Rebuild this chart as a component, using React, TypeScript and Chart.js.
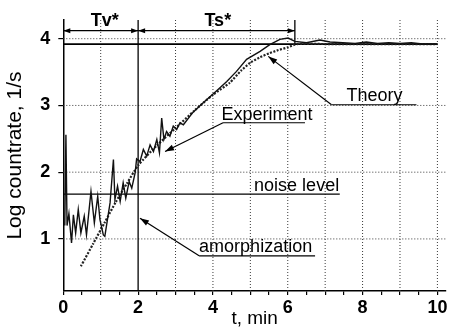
import React, { useEffect, useRef } from 'react';
import { Chart, registerables } from 'chart.js';

Chart.register(...registerables);

const FONT = '"Liberation Sans", Arial, Helvetica, sans-serif';

// Measured count rate (log10, 1/s) versus time, min
const experimentT = [
  0.04, 0.07, 0.1, 0.15, 0.22, 0.27, 0.33, 0.4, 0.47, 0.56, 0.62, 0.74, 0.83, 0.92, 0.98,
  1.07, 1.11, 1.25, 1.34, 1.38, 1.45, 1.52, 1.6, 1.67, 1.76, 1.83, 1.92, 1.96, 2.05, 2.14,
  2.23, 2.32, 2.41, 2.5, 2.57, 2.63, 2.69, 2.76, 2.85, 2.94, 3.03, 3.12, 3.21, 3.47, 3.74,
  3.92, 4.1, 4.37, 4.63, 4.9, 5.26, 5.52, 5.79, 6.01, 6.19, 6.5, 6.86, 7.13, 7.47, 7.8,
  8.1, 8.4, 8.7, 9.0, 9.3, 9.6, 10.0,
];
const experimentLog = [
  1.2, 2.56, 1.2, 1.38, 0.94, 1.36, 1.09, 1.44, 1.09, 1.34, 1.06, 1.71, 1.24, 1.64, 1.29,
  1.06, 1.04, 1.54, 2.19, 1.59, 1.79, 1.56, 1.84, 1.61, 1.86, 1.76, 1.99, 2.2, 2.16, 2.34,
  2.24, 2.41, 2.31, 2.49, 2.29, 2.81, 2.49, 2.61, 2.54, 2.69, 2.64, 2.74, 2.71, 2.9, 3.04,
  3.13, 3.22, 3.36, 3.51, 3.69, 3.81, 3.91, 3.99, 4.01, 3.96, 3.94, 3.98, 3.95, 3.94, 3.93,
  3.95, 3.93, 3.94, 3.93, 3.94, 3.92, 3.92,
];

// Calculated curve
const theoryT = [
  0.47, 0.8, 1.1, 1.4, 1.7, 2.0, 2.5, 3.0, 3.5, 4.0, 4.45, 4.75, 5.0, 5.25, 5.5, 5.75, 6.0,
  6.25, 7.0, 8.0, 9.0, 10.0,
];
const theoryLog = [
  0.59, 0.93, 1.24, 1.55, 1.83, 2.1, 2.4, 2.66, 2.92, 3.16, 3.34, 3.52, 3.64, 3.72, 3.78,
  3.83, 3.87, 3.92, 3.92, 3.92, 3.92, 3.92,
];

// Axes
const X_MIN = 0;
const X_MAX = 10.23;
const Y_MIN = 0.22;
const Y_MAX = 4.28;
const xTickValues = [0, 0.5, 1, 1.5, 2, 2.5, 3, 3.5, 4, 4.5, 5, 5.5, 6, 6.5, 7, 7.5, 8, 8.5, 9, 9.5, 10];
const xTickLabels = [0, 2, 4, 6, 8, 10];
const yTickValues = [1, 2, 3, 4];
const gridT = [1, 3, 4, 5, 6, 7, 8, 9, 10];
const gridLog = [1, 2, 3, 4];

// Reference levels and intervals
const tvStart = 0;
const tvEnd = 2;
const tsEnd = 6.19;
const plateauLog = 3.92;
const plateauEnd = 10;
const noiseLog = 1.67;
const noiseEnd = 7.39;
const spanLog = 4.12;

// Callout placement (axis units): text anchor, underline, arrow tip
const callouts = [
  { text: 'Experiment', tx: 4.23, ty: 2.786, ux1: 4.27, ux2: 6.46, uy: 2.741, tipX: 2.72, tipY: 2.31 },
  { text: 'Theory', tx: 7.57, ty: 3.063, ux1: 7.17, ux2: 9.44, uy: 3.01, tipX: 5.48, tipY: 3.735 },
  { text: 'amorphization', tx: 3.63, ty: 0.807, ux1: 3.63, ux2: 6.73, uy: 0.747, tipX: 2.05, tipY: 1.31 },
];
const noiseText = { text: 'noise level', tx: 5.1, ty: 1.721 };
const spanTexts = [
  { text: 'Tv*', tx: 1.11, ty: 4.195 },
  { text: 'Ts*', tx: 4.13, ty: 4.195 },
];

function arrowHead(ctx: CanvasRenderingContext2D, fx: number, fy: number, tx: number, ty: number, len: number, half: number) {
  const ang = Math.atan2(ty - fy, tx - fx);
  ctx.beginPath();
  ctx.moveTo(tx, ty);
  ctx.lineTo(tx - len * Math.cos(ang) + half * Math.sin(ang), ty - len * Math.sin(ang) - half * Math.cos(ang));
  ctx.lineTo(tx - len * Math.cos(ang) - half * Math.sin(ang), ty - len * Math.sin(ang) + half * Math.cos(ang));
  ctx.closePath();
  ctx.fill();
}

function seg(ctx: CanvasRenderingContext2D, x1: number, y1: number, x2: number, y2: number) {
  ctx.beginPath();
  ctx.moveTo(x1, y1);
  ctx.lineTo(x2, y2);
  ctx.stroke();
}

const overlay = {
  id: 'overlay',
  beforeDatasetsDraw(chart: any) {
    const { ctx, chartArea: a, scales } = chart;
    const X = (v: number) => scales.x.getPixelForValue(v);
    const Y = (v: number) => scales.y.getPixelForValue(v);
    ctx.save();
    // dotted grid
    ctx.strokeStyle = '#3a3a3a';
    ctx.lineWidth = 1;
    ctx.setLineDash([1, 2]);
    for (const v of gridT) seg(ctx, X(v), a.top, X(v), a.bottom);
    for (const v of gridLog) seg(ctx, a.left, Y(v), a.right, Y(v));
    ctx.setLineDash([]);
    // solid reference lines
    ctx.strokeStyle = '#000';
    ctx.lineWidth = 1.3;
    seg(ctx, X(tvEnd), a.top, X(tvEnd), a.bottom);
    seg(ctx, X(tsEnd), a.top, X(tsEnd), Y(plateauLog));
    seg(ctx, X(tvStart), Y(noiseLog), X(noiseEnd), Y(noiseLog));
    ctx.lineWidth = 1.8;
    seg(ctx, X(tvStart), Y(plateauLog), X(plateauEnd), Y(plateauLog));
    ctx.restore();
  },
  afterDraw(chart: any) {
    const { ctx, scales } = chart;
    const X = (v: number) => scales.x.getPixelForValue(v);
    const Y = (v: number) => scales.y.getPixelForValue(v);
    ctx.save();
    ctx.strokeStyle = '#000';
    ctx.fillStyle = '#000';
    ctx.lineWidth = 1.3;
    // interval arrows
    const ys = Y(spanLog);
    seg(ctx, X(tvStart), ys, X(tvEnd), ys);
    seg(ctx, X(tvEnd), ys, X(tsEnd), ys);
    arrowHead(ctx, X(tvEnd), ys, X(tvStart), ys, 7, 2.5);
    arrowHead(ctx, X(tvStart), ys, X(tvEnd), ys, 7, 2.5);
    arrowHead(ctx, X(tsEnd), ys, X(tvEnd), ys, 7, 2.5);
    arrowHead(ctx, X(tvEnd), ys, X(tsEnd), ys, 7, 2.5);
    // callouts
    ctx.font = `18px ${FONT}`;
    ctx.textBaseline = 'alphabetic';
    ctx.textAlign = 'left';
    ctx.lineWidth = 1.2;
    for (const c of callouts) {
      seg(ctx, X(c.ux1), Y(c.uy), X(c.ux2), Y(c.uy));
      seg(ctx, X(c.ux1), Y(c.uy), X(c.tipX), Y(c.tipY));
      arrowHead(ctx, X(c.ux1), Y(c.uy), X(c.tipX), Y(c.tipY), 9, 3);
      ctx.fillText(c.text, X(c.tx), Y(c.ty));
    }
    ctx.fillText(noiseText.text, X(noiseText.tx), Y(noiseText.ty));
    ctx.font = `bold 18px ${FONT}`;
    ctx.textAlign = 'center';
    for (const s of spanTexts) ctx.fillText(s.text, X(s.tx), Y(s.ty));
    ctx.restore();
  },
};

export default function App() {
  const ref = useRef<HTMLCanvasElement>(null);

  useEffect(() => {
    const canvas = ref.current;
    if (!canvas) return;
    const chart = new Chart(canvas, {
      type: 'line',
      data: {
        datasets: [
          {
            label: 'Experiment',
            data: experimentT.map((t, i) => ({ x: t, y: experimentLog[i] })),
            borderColor: '#111',
            borderWidth: 1.4,
            pointRadius: 0,
            tension: 0,
            fill: false,
          },
          {
            label: 'Theory',
            data: theoryT.map((t, i) => ({ x: t, y: theoryLog[i] })),
            borderColor: '#222',
            borderWidth: 2.2,
            borderDash: [2, 1.5],
            pointRadius: 0,
            tension: 0.2,
            fill: false,
          },
        ],
      },
      options: {
        animation: false,
        responsive: false,
        maintainAspectRatio: false,
        events: [],
        layout: { padding: { top: 20, right: 4, left: 0, bottom: 0 } },
        plugins: { legend: { display: false }, tooltip: { enabled: false } },
        scales: {
          x: {
            type: 'linear',
            min: X_MIN,
            max: X_MAX,
            afterBuildTicks: (s: any) => {
              s.ticks = xTickValues.map((v) => ({ value: v }));
            },
            afterFit: (s: any) => {
              s.height = 36;
            },
            ticks: {
              autoSkip: false,
              maxRotation: 0,
              padding: 2,
              color: '#000',
              font: { family: FONT, size: 18, weight: 'bold' },
              callback: (v: any) => (xTickLabels.includes(Number(v)) ? String(v) : ''),
            },
            grid: { display: true, drawOnChartArea: false, drawTicks: true, tickLength: 4, color: '#000', lineWidth: 1.2 },
            border: { display: true, color: '#000', width: 1.5 },
            title: {
              display: true,
              text: 't, min',
              color: '#000',
              font: { family: FONT, size: 19, lineHeight: 1 },
              padding: { top: 0, bottom: -1 },
            },
          },
          y: {
            type: 'linear',
            min: Y_MIN,
            max: Y_MAX,
            afterBuildTicks: (s: any) => {
              s.ticks = yTickValues.map((v) => ({ value: v }));
            },
            afterFit: (s: any) => {
              s.width = 63.3;
            },
            ticks: {
              autoSkip: false,
              padding: 8,
              color: '#000',
              font: { family: FONT, size: 18, weight: 'bold' },
              callback: (v: any) => String(v),
            },
            grid: { display: true, drawOnChartArea: false, drawTicks: true, tickLength: 5, color: '#000', lineWidth: 1.2 },
            border: { display: true, color: '#000', width: 1.5 },
            title: {
              display: true,
              text: 'Log countrate, 1/s',
              color: '#000',
              font: { family: FONT, size: 21, lineHeight: 1 },
              padding: { top: 4.5, bottom: 0 },
            },
          },
        },
      },
      plugins: [overlay],
    } as any);
    return () => chart.destroy();
  }, []);

  return (
    <div style={{ position: 'fixed', left: 0, top: 0, width: 450, height: 327, background: '#fff' }}>
      <canvas ref={ref} width={450} height={327} style={{ display: 'block' }} />
    </div>
  );
}
